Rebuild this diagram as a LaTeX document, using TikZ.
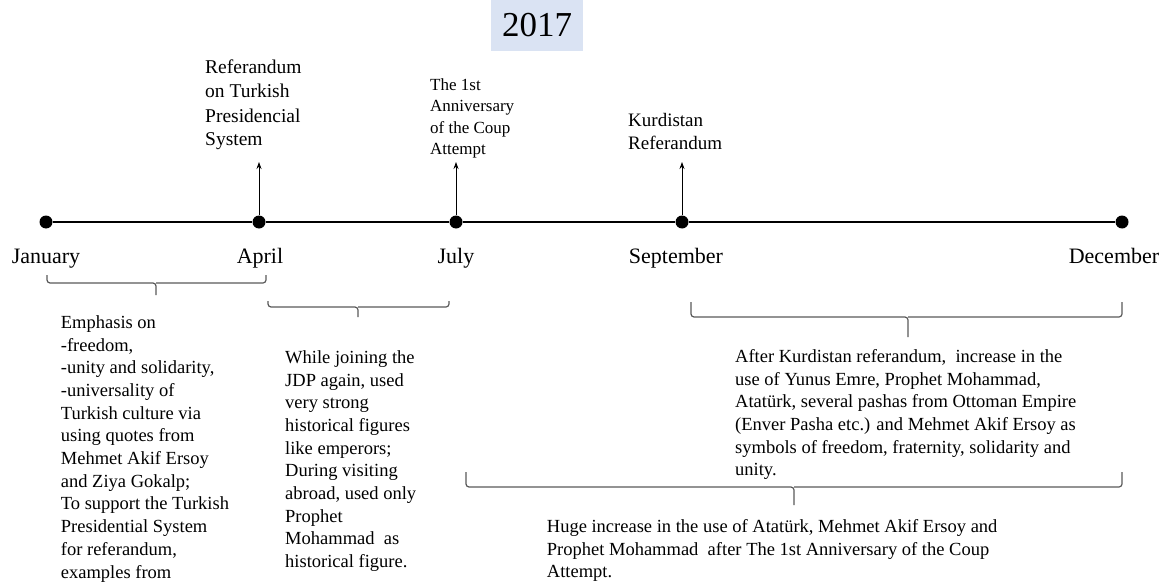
\documentclass[tikz,border=0pt]{standalone}
\usepackage{fontspec}
\setmainfont{Liberation Serif}
\usetikzlibrary{arrows.meta}
\definecolor{yearbox}{RGB}{218,227,243}
\definecolor{bracegray}{RGB}{89,89,89}
\begin{document}
\begin{tikzpicture}[x=1pt,y=-1pt,
  dot/.style={circle,fill=black,inner sep=0pt,minimum size=13pt},
  month/.style={anchor=base,font=\fontsize{22}{26}\selectfont,inner sep=0pt},
  event/.style={anchor=base west,align=left,inner sep=0pt,font=\fontsize{19.5}{24}\selectfont},
  body/.style={anchor=base west,align=left,inner sep=0pt,font=\fontsize{18.5}{22.7}\selectfont},
  brace/.style={draw=bracegray,line width=1.2pt,rounded corners=3pt},
  pointer/.style={-{Stealth[length=7pt,width=5pt]},line width=0.8pt},
  axis/.style={line width=2pt}]
\useasboundingbox (0,0) rectangle (1166,583);

% year box
\node[fill=yearbox,minimum width=92pt,minimum height=51pt,inner sep=0pt,
      font=\fontsize{35}{40}\selectfont] (year) at (537,25.5) {2017};

% timeline dots
\node[dot] (jan) at (46,222) {};
\node[dot] (apr) at (259,222) {};
\node[dot] (jul) at (456,222) {};
\node[dot] (sep) at (682,222) {};
\node[dot] (dec) at (1122,222) {};
\draw[axis] (jan) -- (apr) -- (jul) -- (sep) -- (dec);

% month labels
\node[month] (janlbl) at (46,263) {January};
\node[month] (aprlbl) at (260,263) {April};
\node[month] (jullbl) at (456,263) {July};
\node[month] (seplbl) at (676,263) {September};
\node[month] (declbl) at (1114,263) {December};

% event pointers
\coordinate (aprtip) at (259,162);
\coordinate (jultip) at (456,162);
\coordinate (septip) at (682,162);
\draw[pointer] (apr) -- (aprtip);
\draw[pointer] (jul) -- (jultip);
\draw[pointer] (sep) -- (septip);

% event labels (anchor = baseline of last line)
\node[event] (evapr) at (205,146) {Referandum\\on Turkish\\Presidencial\\System};
\node[event,font=\fontsize{17}{21.3}\selectfont] (evjul) at (430,154.6) {The 1st\\Anniversary\\of the Coup\\Attempt};
\node[event,font=\fontsize{19}{23.5}\selectfont] (evsep) at (628,149.5) {Kurdistan\\Referandum};

% braces
\coordinate (b1l) at (47,275);  \coordinate (b1r) at (266,275);
\coordinate (b1m) at (156,283); \coordinate (b1t) at (156,295);
\draw[brace] (b1l) |- (b1m) -- (b1t);
\draw[brace] (b1r) |- (b1m);

\coordinate (b2l) at (268,301); \coordinate (b2r) at (449,301);
\coordinate (b2m) at (358,307); \coordinate (b2t) at (358,317);
\draw[brace] (b2l) |- (b2m) -- (b2t);
\draw[brace] (b2r) |- (b2m);

\coordinate (b3l) at (691,302); \coordinate (b3r) at (1122,302);
\coordinate (b3m) at (908,317); \coordinate (b3t) at (908,337);
\draw[brace] (b3l) |- (b3m) -- (b3t);
\draw[brace] (b3r) |- (b3m);

\coordinate (b4l) at (466,472); \coordinate (b4r) at (1122,472);
\coordinate (b4m) at (794,487); \coordinate (b4t) at (794,505);
\draw[brace] (b4l) |- (b4m) -- (b4t);
\draw[brace] (b4r) |- (b4m);

% descriptions (anchor = baseline of last line)
\node[body] (txtjan) at (60.7,578) {Emphasis on\\-freedom,\\-unity and solidarity,\\-universality of\\Turkish culture via\\using quotes from\\Mehmet Akif Ersoy\\and Ziya Gokalp;\\To support the Turkish\\Presidential System\\for referandum,\\examples from};
\node[body] (txtapr) at (285,567.6) {While joining the\\JDP again, used\\very strong\\historical figures\\like emperors;\\During visiting\\abroad, used only\\Prophet\\Mohammad~ as\\historical figure.};
\node[body] (txtsep) at (735,475.8) {After Kurdistan referandum,~ increase in the\\use of Yunus Emre, Prophet Mohammad,\\Atatürk, several pashas from Ottoman Empire\\(Enver Pasha etc.) and Mehmet Akif Ersoy as\\symbols of freedom, fraternity, solidarity and\\unity.};
\node[body] (txtbig) at (546.7,577.7) {Huge increase in the use of Atatürk, Mehmet Akif Ersoy and\\Prophet Mohammad~ after The 1st Anniversary of the Coup\\Attempt.};
\end{tikzpicture}
\end{document}
